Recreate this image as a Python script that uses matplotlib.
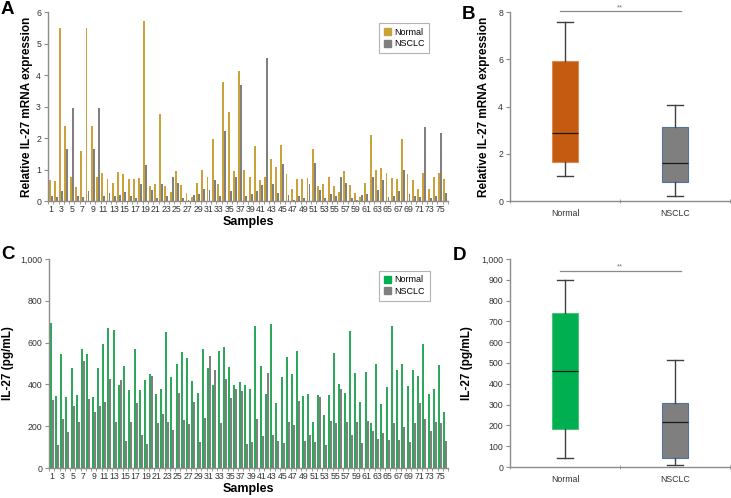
import matplotlib
matplotlib.use("Agg")
import matplotlib.pyplot as plt
import numpy as np
from matplotlib.patches import Patch
from matplotlib.ticker import FuncFormatter

plt.rcParams['font.family'] = ['Liberation Sans', 'DejaVu Sans']

# ---------------- data ----------------
samples = list(range(1, 77))
tick_labels = [str(i) for i in range(1, 77, 2)]

mrna_normal = [0.67, 0.64, 5.49, 2.39, 0.76, 0.45, 1.59, 5.49, 2.39, 0.76,
               0.90, 0.69, 0.56, 0.93, 0.85, 0.69, 0.69, 0.73, 5.70, 0.47,
               0.53, 2.76, 0.47, 0.27, 0.96, 0.51, 0.25, 0.13, 0.56, 1.00,
               0.76, 1.98, 0.53, 3.79, 2.81, 0.96, 4.12, 0.99, 0.75, 1.75,
               0.67, 0.77, 1.34, 1.07, 1.77, 0.86, 0.39, 0.69, 0.69, 0.74,
               1.65, 0.48, 0.54, 0.75, 0.47, 0.29, 0.96, 0.51, 0.25, 0.13,
               0.56, 2.11, 0.99, 1.04, 0.88, 0.74, 0.69, 1.96, 0.85, 0.67,
               0.37, 0.88, 0.38, 0.75, 0.90, 0.69]
mrna_nsclc = [0.16, 0.13, 0.32, 1.65, 2.95, 0.16, 0.13, 0.32, 1.65, 2.95,
              0.16, 0.25, 0.16, 0.20, 0.30, 0.16, 0.08, 0.55, 1.15, 0.36,
              0.11, 0.53, 0.16, 0.75, 0.57, 0.11, 0.02, 0.19, 0.23, 0.39,
              0.35, 0.67, 0.16, 2.23, 0.33, 0.76, 3.68, 0.16, 0.23, 0.33,
              0.52, 4.53, 0.54, 0.25, 1.18, 0.20, 0.03, 0.16, 0.08, 0.54,
              1.22, 0.35, 0.11, 0.23, 0.16, 0.75, 0.56, 0.11, 0.02, 0.19,
              0.23, 0.75, 0.35, 0.67, 0.13, 0.16, 0.33, 0.98, 0.23, 0.16,
              0.13, 2.34, 0.11, 0.16, 2.17, 0.25]

pg_normal = [694, 343, 547, 338, 477, 350, 571, 547, 338, 477,
             594, 670, 661, 397, 487, 372, 571, 375, 420, 450,
             356, 378, 653, 434, 499, 554, 528, 417, 359, 571,
             480, 398, 559, 579, 484, 399, 412, 397, 378, 678,
             487, 353, 690, 311, 437, 530, 450, 559, 346, 356,
             222, 348, 255, 348, 551, 400, 360, 656, 456, 314,
             461, 214, 498, 308, 389, 681, 469, 498, 391, 469,
             439, 592, 356, 378, 495, 270]
pg_nsclc = [324, 112, 236, 171, 298, 219, 514, 332, 266, 298,
            318, 426, 219, 423, 131, 219, 311, 160, 117, 439,
            214, 257, 219, 180, 359, 231, 211, 318, 124, 239,
            538, 468, 217, 428, 334, 378, 367, 117, 124, 236,
            155, 455, 158, 128, 120, 222, 207, 319, 131, 160,
            124, 338, 112, 223, 217, 378, 222, 158, 222, 120,
            225, 176, 139, 169, 136, 217, 136, 198, 124, 217,
            311, 236, 176, 222, 217, 128]

groups = ['Normal', 'NSCLC']
# box stats: whisker low, Q1, median, Q3, whisker high
mrna_box_normal = [1.05, 1.65, 2.90, 5.95, 7.60]
mrna_box_nsclc = [0.20, 0.82, 1.62, 3.12, 4.05]
pg_box_normal = [45, 182, 462, 742, 900]
pg_box_nsclc = [12, 45, 215, 308, 515]

# ---------------- style ----------------
GOLD = '#CBA23A'
GRAY = '#7F7F7F'
GREEN_BAR = '#2EA85A'
GREEN = '#00B050'
ORANGE = '#C55A11'
SPINE = '#8C8C8C'
TXT = '#333333'

W, H = 731, 498
fig = plt.figure(figsize=(W / 100, H / 100), dpi=100)


def ax_px(l, r, top, bottom):
    return fig.add_axes([l / W, 1 - bottom / H, (r - l) / W, (bottom - top) / H])


def style(ax):
    for s in ['top', 'right']:
        ax.spines[s].set_visible(False)
    for s in ['left', 'bottom']:
        ax.spines[s].set_color(SPINE)
        ax.spines[s].set_linewidth(1.0)
    ax.tick_params(axis='both', colors=SPINE, labelcolor=TXT, labelsize=6.3,
                   length=3, width=0.8)
    ax.tick_params(axis='y', pad=2)


thousands = FuncFormatter(lambda v, p: f'{int(v):,}')


def bar_panel(ax, normal, nsclc, c1, ymax, yticks, ylabel, legend_color, fmt=None, ylpad=2):
    x = np.array(samples)
    w = 0.36
    ax.bar(x - 0.19, normal, width=w, color=c1, linewidth=0)
    ax.bar(x + 0.19, nsclc, width=w, color=GRAY, linewidth=0)
    ax.set_xlim(0.5, len(samples) + 0.5)
    ax.set_ylim(0, ymax)
    ax.set_yticks(yticks)
    if fmt is not None:
        ax.yaxis.set_major_formatter(fmt)
    ax.set_xticks(range(1, 77, 2))
    ax.set_xticklabels(tick_labels)
    ax.set_xticks(np.arange(0.5, len(samples) + 1, 1), minor=True)
    ax.tick_params(axis='x', which='major', length=0, pad=3)
    ax.tick_params(axis='x', which='minor', length=2, color=SPINE)
    ax.set_xlabel('Samples', fontsize=9, fontweight='bold', labelpad=1)
    ax.set_ylabel(ylabel, fontsize=8.5, fontweight='bold', labelpad=ylpad)
    handles = [Patch(color=legend_color, label='Normal'), Patch(color=GRAY, label='NSCLC')]
    leg = ax.legend(handles=handles, loc='upper right', bbox_to_anchor=(0.965, 0.965),
                    fontsize=6.5, frameon=True, fancybox=False, handlelength=0.8,
                    handleheight=0.8, handletextpad=0.4, borderpad=0.5, labelspacing=0.3)
    leg.get_frame().set_edgecolor('#A0A0A0')
    leg.get_frame().set_linewidth(0.8)


def box_panel(ax, stats_n, stats_t, cn, en, ymax, yticks, ylabel, sig_y, fmt=None, ylpad=2):
    keys = ['whislo', 'q1', 'med', 'q3', 'whishi']
    bstats = [dict(zip(keys, stats_n)), dict(zip(keys, stats_t))]
    bp = ax.bxp(bstats, positions=[1, 2], widths=0.23, showfliers=False,
                patch_artist=True, capwidths=0.14,
                whiskerprops=dict(color='#404040', linewidth=1.0),
                capprops=dict(color='#404040', linewidth=1.0),
                medianprops=dict(color='#1A1A1A', linewidth=0.9))
    bp['boxes'][0].set_facecolor(cn)
    bp['boxes'][0].set_edgecolor(en)
    bp['boxes'][1].set_facecolor(GRAY)
    bp['boxes'][1].set_edgecolor('#4F72A0')
    for b in bp['boxes']:
        b.set_linewidth(0.8)
    ax.set_xlim(0.5, 2.5)
    ax.set_ylim(0, ymax)
    ax.set_yticks(yticks)
    if fmt is not None:
        ax.yaxis.set_major_formatter(fmt)
    ax.set_xticks([1, 2])
    ax.set_xticklabels(groups)
    ax.set_xticks([0.5, 1.5, 2.5], minor=True)
    ax.tick_params(axis='x', which='major', length=0, pad=6)
    ax.tick_params(axis='x', which='minor', length=3, color=SPINE, direction='inout')
    ax.set_ylabel(ylabel, fontsize=8.5, fontweight='bold', labelpad=ylpad)
    ax.plot([0.95, 2.05], [sig_y, sig_y], color='#8A8A8A', lw=0.9, clip_on=False)
    ax.text(1.5, sig_y, '**', ha='center', va='bottom', fontsize=5.5, color='#777777')


# Panel A
axA = ax_px(48, 448, 12, 201)
style(axA)
bar_panel(axA, mrna_normal, mrna_nsclc, GOLD, 6, range(0, 7), 'Relative IL-27 mRNA expression', GOLD)

# Panel B
axB = ax_px(510, 730, 12.3, 201)
style(axB)
box_panel(axB, mrna_box_normal, mrna_box_nsclc, ORANGE, '#D98A4E', 8, range(0, 9, 2),
          'Relative IL-27 mRNA expression', 8.05, ylpad=6)

# Panel C
axC = ax_px(49, 448, 259, 468)
style(axC)
bar_panel(axC, pg_normal, pg_nsclc, GREEN_BAR, 1000, range(0, 1001, 200), 'IL-27 (pg/mL)', GREEN,
          fmt=thousands, ylpad=4)

# Panel D
axD = ax_px(510, 730, 259, 467)
style(axD)
box_panel(axD, pg_box_normal, pg_box_nsclc, GREEN, '#4CC07D', 1000, range(0, 1001, 100),
          'IL-27 (pg/mL)', 944, fmt=thousands, ylpad=6)

# panel letters
for lab, (px, py) in {'A': (1, 1), 'B': (462, 6), 'C': (1, 246), 'D': (453, 247)}.items():
    fig.text(px / W, 1 - py / H, lab, fontsize=13.5, fontweight='bold', va='top', ha='left')

fig.savefig('out.png', dpi=100)
